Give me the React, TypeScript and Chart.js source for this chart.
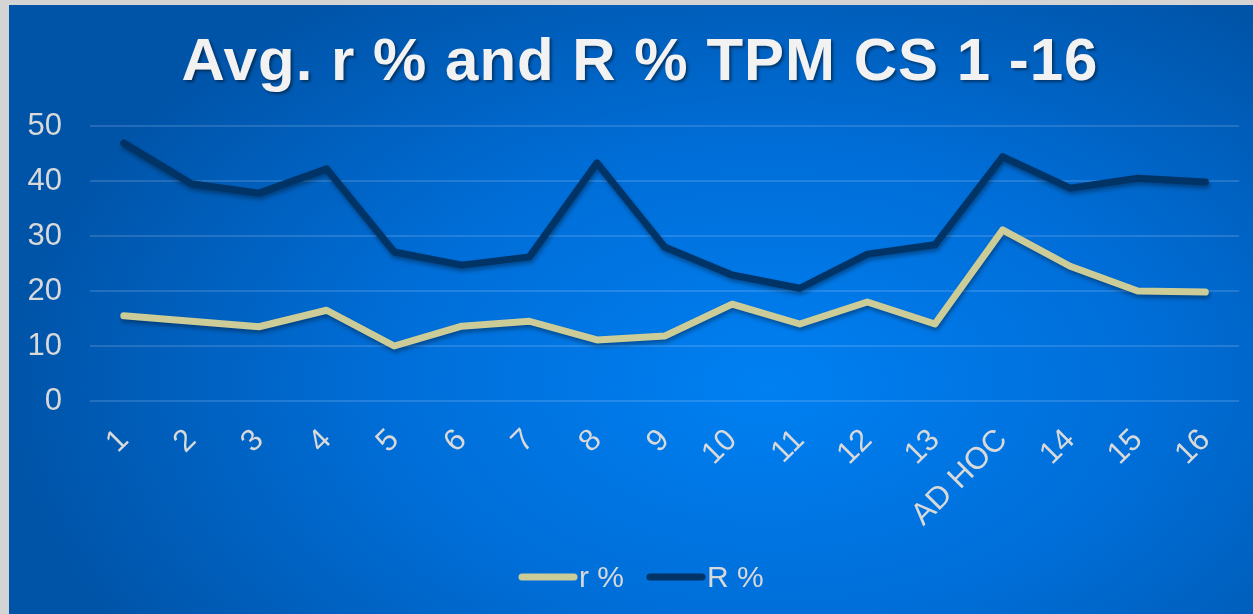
import React, { useEffect, useRef } from "react";
import { Chart, registerables } from "chart.js";

Chart.register(...registerables);

const categories = ["1", "2", "3", "4", "5", "6", "7", "8", "9", "10", "11", "12", "13", "AD HOC", "14", "15", "16"];
const rSmall = [15.5, 14.5, 13.5, 16.5, 10, 13.6, 14.5, 11.1, 11.8, 17.6, 14, 18, 14, 31.1, 24.5, 20, 19.8];
const rBig = [46.9, 39.5, 37.8, 42.2, 27.1, 24.7, 26.2, 43.3, 28, 22.9, 20.5, 26.7, 28.4, 44.4, 38.7, 40.5, 39.8];
const yTicks = [0, 10, 20, 30, 40, 50];
const titleText = "Avg. r % and R % TPM CS 1 -16";
const seriesNames = ["r %", "R %"];

const FONT = "'Liberation Sans', Arial, sans-serif";

const bgPlugin = {
  id: "bgPlugin",
  beforeDraw(chart: any) {
    const { ctx, width, height } = chart;
    ctx.save();
    const cx = 760, cy = 380;
    ctx.translate(cx, cy);
    ctx.scale(1, 0.62);
    const g = ctx.createRadialGradient(0, 0, 0, 0, 0, 760);
    g.addColorStop(0, "#0080f2");
    g.addColorStop(0.5, "#006ed8");
    g.addColorStop(1, "#0054a8");
    ctx.fillStyle = g;
    ctx.fillRect(-cx - 10, -cy / 0.62 - 10, width + 40, height / 0.62 + 40);
    ctx.restore();
  },
};

const titlePlugin = {
  id: "titlePlugin",
  afterDraw(chart: any) {
    const { ctx } = chart;
    ctx.save();
    ctx.font = `bold 60px ${FONT}`;
    try { (ctx as any).letterSpacing = "1px"; } catch (e) {}
    ctx.textAlign = "center";
    ctx.textBaseline = "alphabetic";
    ctx.shadowColor = "rgba(0,0,0,0.45)";
    ctx.shadowOffsetX = 2;
    ctx.shadowOffsetY = 2;
    ctx.shadowBlur = 3;
    ctx.fillStyle = "#f2f2f2";
    ctx.fillText(titleText, 631, 75);
    ctx.restore();
  },
};

const shadowPlugin = {
  id: "shadowPlugin",
  beforeDatasetsDraw(chart: any) {
    const ctx = chart.ctx;
    ctx.save();
    ctx.shadowColor = "rgba(0,0,0,0.35)";
    ctx.shadowOffsetX = 1;
    ctx.shadowOffsetY = 3;
    ctx.shadowBlur = 4;
  },
  afterDatasetsDraw(chart: any) {
    chart.ctx.restore();
  },
};

const legendPlugin = {
  id: "legendPlugin",
  afterDraw(chart: any) {
    const { ctx } = chart;
    ctx.save();
    ctx.font = `30px ${FONT}`;
    ctx.textBaseline = "middle";
    ctx.textAlign = "left";
    const y = 572;
    const starts = [510, 638];
    chart.data.datasets.forEach((ds: any, i: number) => {
      const x = starts[i];
      ctx.strokeStyle = ds.borderColor;
      ctx.lineWidth = 7;
      ctx.lineCap = "round";
      ctx.beginPath();
      ctx.moveTo(x + 3, y);
      ctx.lineTo(x + 55, y);
      ctx.stroke();
      ctx.fillStyle = "#d9d9d9";
      ctx.fillText(ds.label, x + 60, y + 2);
    });
    ctx.restore();
  },
};

export default function App() {
  const ref = useRef<HTMLCanvasElement | null>(null);
  useEffect(() => {
    document.body.style.margin = "0";
    document.body.style.padding = "5px 0 0 9px";
    document.body.style.background = "#d4d4d4";
    document.body.style.overflow = "hidden";
    const chart = new Chart(ref.current!, {
      type: "line",
      data: {
        labels: categories,
        datasets: [
          {
            label: seriesNames[0],
            data: rSmall,
            borderColor: "#cccc99",
            backgroundColor: "#cccc99",
            borderWidth: 7,
            borderCapStyle: "round",
            borderJoinStyle: "round",
            pointRadius: 0,
            tension: 0,
          },
          {
            label: seriesNames[1],
            data: rBig,
            borderColor: "#003366",
            backgroundColor: "#003366",
            borderWidth: 7,
            borderCapStyle: "round",
            borderJoinStyle: "round",
            pointRadius: 0,
            tension: 0,
          },
        ],
      },
      options: {
        responsive: false,
        animation: false,
        layout: { padding: { top: 121, right: 12, left: 0, bottom: 0 } },
        plugins: {
          legend: { display: false },
          title: { display: false },
          tooltip: { enabled: false },
        },
        scales: {
          x: {
            offset: true,
            grid: { display: false, drawTicks: false },
            border: { display: false },
            ticks: {
              color: "#d9d9d9",
              font: { family: FONT, size: 31 },
              minRotation: 45,
              maxRotation: 45,
              padding: 21,
              autoSkip: false,
            },
            afterFit(scale: any) {
              scale.height = 213;
            },
          },
          y: {
            min: 0,
            max: 50,
            afterBuildTicks(scale: any) {
              scale.ticks = yTicks.map((v) => ({ value: v }));
            },
            grid: { color: "rgba(220,230,255,0.16)", lineWidth: 2, drawTicks: false },
            border: { display: false },
            ticks: {
              color: "#d9d9d9",
              font: { family: FONT, size: 31 },
              padding: 28,
            },
            afterFit(scale: any) {
              scale.width = 81;
            },
          },
        },
      },
      plugins: [bgPlugin, shadowPlugin, titlePlugin, legendPlugin],
    });
    return () => chart.destroy();
  }, []);
  return <canvas ref={ref} width={1244} height={609} style={{ display: "block" }} />;
}
